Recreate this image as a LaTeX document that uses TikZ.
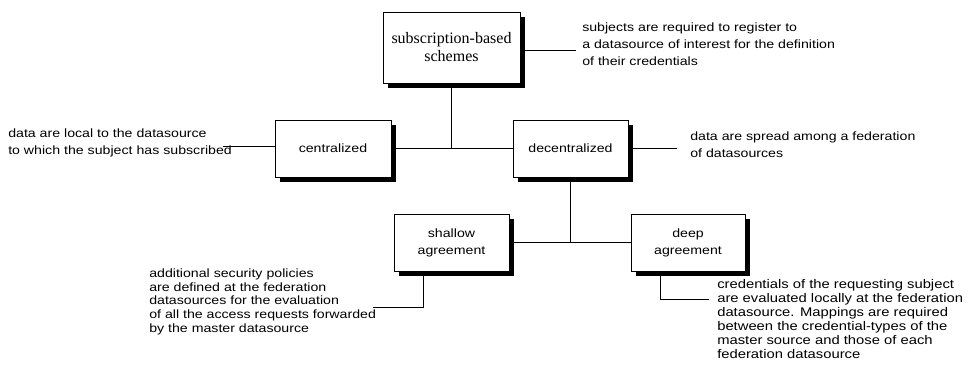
\documentclass[tikz,border=0pt]{standalone}
\usepackage{fontspec}
\setmainfont{Liberation Sans}[FakeStretch=1.18]
\newfontfamily\boxserif{Liberation Serif}
\usetikzlibrary{shadows}
\pgfdeclarelayer{bg}
\pgfsetlayers{bg,main}
\tikzset{
  scheme/.style={draw, fill=white, line width=0.7pt, align=center, inner sep=0pt,
    drop shadow={shadow xshift=3.75pt, shadow yshift=-3.75pt, fill=black, opacity=1},
    font=\fontsize{9pt}{12.75pt}\selectfont},
  note/.style={anchor=north west, inner sep=0pt, align=left,
    font=\fontsize{9pt}{12.75pt}\selectfont},
  notesmall/.style={anchor=north west, inner sep=0pt, align=left,
    font=\fontsize{9pt}{10.3pt}\selectfont},
  link/.style={line width=0.7pt}
}
\begin{document}
\begin{tikzpicture}[x=0.75pt, y=-0.75pt]
\clip (0,0) rectangle (970,377);
\useasboundingbox (0,0) rectangle (970,377);

% scheme boxes
\node[scheme, minimum width=137*0.75pt, minimum height=71*0.75pt,
      font=\boxserif\fontsize{12pt}{13.5pt}\selectfont] (top) at (451.5,47.5)
      {subscription-based\\schemes};
\node[scheme, minimum width=116*0.75pt, minimum height=57*0.75pt] (cent) at (333,148.5) {centralized};
\node[scheme, minimum width=115*0.75pt, minimum height=57*0.75pt] (dec) at (570.5,148.5) {decentralized};
\node[scheme, minimum width=115*0.75pt, minimum height=57*0.75pt] (shal) at (451.5,242.5) {shallow\\agreement};
\node[scheme, minimum width=114*0.75pt, minimum height=57*0.75pt] (deep) at (688,242.5) {deep\\agreement};

% explanatory notes
\node[note] (ttxt) at (582,22.5) {subjects are required to register to\\a datasource of interest for the definition\\of their credentials};
\node[note] (ctxt) at (8,128.5) {data are local to the datasource\\to which the subject has subscribed};
\node[note] (dtxt) at (690,131.5) {data are spread among a federation\\of datasources};
\node[notesmall] (stxt) at (149,268.5) {additional security policies\\are defined at the federation\\datasources for the evaluation\\of all the access requests forwarded\\by the master datasource};
\node[notesmall, font=\fontsize{9.4pt}{10.5pt}\selectfont] (ptxt) at (717,279) {credentials of the requesting subject\\are evaluated locally at the federation\\datasource. Mappings are required\\between the credential-types of the\\master source and those of each\\federation datasource};

% connector end points
\coordinate (trc) at (576,50);
\coordinate (lc) at (223,146);
\coordinate (rc) at (677,148.5);
\coordinate (sbx) at (423,307);
\coordinate (sb) at (373,307);
\coordinate (dbx) at (660,299);
\coordinate (db) at (709,299);

\begin{pgfonlayer}{bg}
\draw[link] (top.east |- trc) -- (trc);
\draw[link] (top.south) -- (top.south |- cent.east);
\draw[link] (cent.east) -- (dec.west);
\draw[link] (cent.west |- lc) -- (lc);
\draw[link] (dec.east) -- (rc);
\draw[link] (dec.south) -- (dec.south |- shal.east);
\draw[link] (shal.east) -- (deep.west);
\draw[link] (shal.south -| sbx) -- (sbx) -- (sb);
\draw[link] (deep.south -| dbx) -- (dbx) -- (db);
\end{pgfonlayer}
\end{tikzpicture}
\end{document}
